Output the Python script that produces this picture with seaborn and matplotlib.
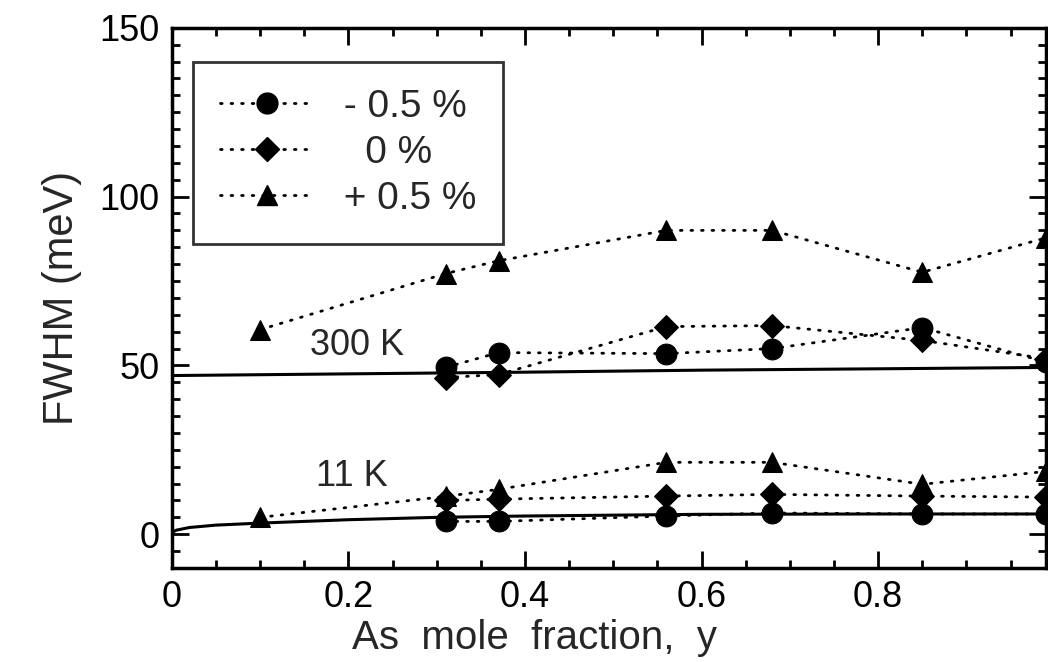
import numpy as np
import pandas as pd
import seaborn as sns
import matplotlib.pyplot as plt
from matplotlib.lines import Line2D
from matplotlib.ticker import MultipleLocator

# As mole fraction of the measured samples
x_pts = [0.31, 0.37, 0.56, 0.68, 0.85, 0.99]
x_tri = [0.10, 0.31, 0.37, 0.56, 0.68, 0.85, 0.99]

# 300 K FWHM (meV)
hot_minus = [49.4, 53.8, 53.5, 55.0, 61.2, 51.0]
hot_zero = [46.4, 47.3, 61.5, 61.8, 57.4, 52.0]
hot_plus = [60.6, 77.2, 81.0, 90.0, 90.0, 77.6, 87.8]

# 11 K FWHM (meV)
cold_minus = [3.8, 3.8, 5.4, 6.3, 6.0, 6.0]
cold_zero = [10.0, 10.4, 11.3, 11.8, 11.3, 11.0]
cold_plus = [5.0, 11.2, 13.3, 21.3, 21.3, 14.8, 18.6]

# calculated curves (solid)
x_calc_hot = [0.0, 0.2, 0.4, 0.6, 0.8, 0.99]
y_calc_hot = [47.0, 47.5, 48.0, 48.6, 49.0, 49.4]
x_calc_cold = [0.0, 0.005, 0.02, 0.05, 0.1, 0.2, 0.3, 0.4, 0.6, 0.8, 0.99]
y_calc_cold = [0.5, 1.2, 2.0, 2.7, 3.3, 4.3, 5.0, 5.4, 5.9, 6.0, 6.0]

labels = [" - 0.5 %", "   0 %", " + 0.5 %"]
markers = ["o", "D", "^"]
msizes = [15, 12, 14]

sns.set_style("ticks")
plt.rcParams["font.family"] = ["Liberation Sans", "DejaVu Sans"]

fig = plt.figure(figsize=(10.48, 6.62), dpi=100)
ax = fig.add_axes([0.164, 0.142, 0.834, 0.816])

dot = (0, (0.6, 3.2))
sns.lineplot(x=x_calc_hot, y=y_calc_hot, ax=ax, color="black", lw=2.2, sort=False)
sns.lineplot(x=x_calc_cold, y=y_calc_cold, ax=ax, color="black", lw=2.2, sort=False)

series = [
    (x_pts, hot_minus), (x_pts, hot_zero), (x_tri, hot_plus),
]
series_cold = [
    (x_pts, cold_minus), (x_pts, cold_zero), (x_tri, cold_plus),
]
for group in (series, series_cold):
    for (xs, ys), m, ms in zip(group, markers, msizes):
        sns.lineplot(x=xs, y=ys, ax=ax, color="black", lw=2.0, linestyle=dot,
                     marker=m, markersize=ms, markeredgecolor="black",
                     dash_capstyle="round", clip_on=False)

ax.text(0.156, 56, "300 K", fontsize=26, va="center")
ax.text(0.163, 17, "11 K", fontsize=26, va="center")

ax.set_xlim(0, 0.99)
ax.set_ylim(-10, 150)
ax.set_xticks([0, 0.2, 0.4, 0.6, 0.8])
ax.set_xticklabels(["0", "0.2", "0.4", "0.6", "0.8"])
ax.set_yticks([0, 50, 100, 150])
ax.xaxis.set_minor_locator(MultipleLocator(0.05))
ax.yaxis.set_minor_locator(MultipleLocator(5))
ax.tick_params(which="both", direction="in", top=True, right=True, width=2, labelsize=26, colors="black")
ax.tick_params(which="major", length=12, pad=9)
ax.tick_params(which="minor", length=6)
for sp in ax.spines.values():
    sp.set_linewidth(2.5)
    sp.set_color("black")

ax.set_xlabel("As  mole  fraction,  y", fontsize=29)
ax.xaxis.set_label_coords(0.415, -0.095)
ax.set_ylabel("FWHM (meV)", fontsize=30, labelpad=12)

handles = [Line2D([], [], color="black", lw=2.0, linestyle=dot, marker=m,
                  markersize=ms, dash_capstyle="round") for m, ms in zip(markers, msizes)]
leg = ax.legend(handles, labels, loc="upper left", bbox_to_anchor=(0.024, 0.937),
                borderaxespad=0, fontsize=28, frameon=True, fancybox=False,
                handlelength=2.4, labelspacing=0.25, borderpad=0.7, handletextpad=0.5)
leg.get_frame().set_edgecolor("black")
leg.get_frame().set_linewidth(2)

fig.savefig("out.png", dpi=100)
